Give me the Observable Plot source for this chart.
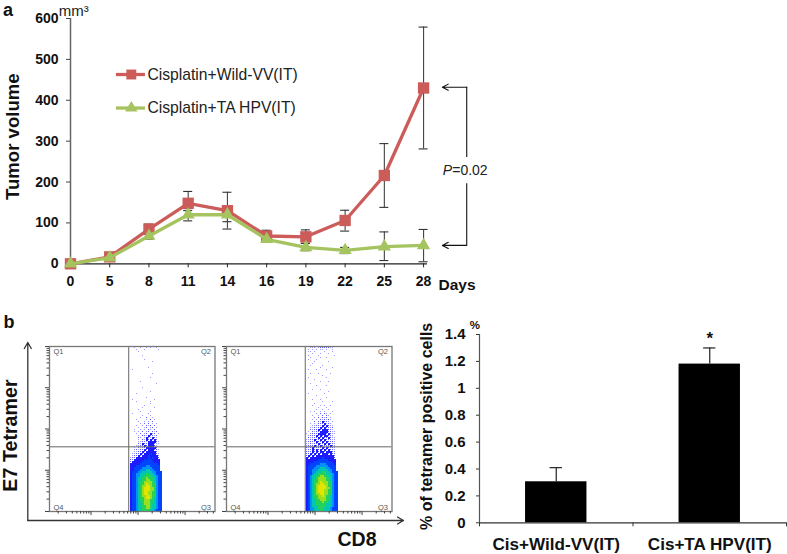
<!DOCTYPE html>
<html>
<head>
<meta charset="utf-8">
<script src="https://cdn.jsdelivr.net/npm/d3@7"></script>
<script src="https://cdn.jsdelivr.net/npm/@observablehq/plot@0.6"></script>
<style>
html,body{margin:0;padding:0;background:#fff}
#page{position:relative;width:787px;height:554px;overflow:hidden;background:#fff}
#page svg{position:absolute;background:transparent;overflow:visible}
</style>
</head>
<body>
<div id="page"></div>
<script>
// ---- Panel a: tumor volume ----
const days = ["0","5","8","11","14","16","19","22","25","28"];
const wildVV = [0,17,85,148,130,68,66,106,216,430];
const wildHigh = [0,20,97,177,175,82,83,131,294,579];
const wildLow = [0,14,72,135,103,55,50,80,138,281];
const taHPV = [0,15,68,120,120,60,40,33,42,45];
const taHigh = [0,17,75,130,132,66,50,40,78,84];
const taLow = [0,12,60,105,85,54,32,25,8,5];
const volumeTicks = [0,100,200,300,400,500,600];
const seriesNames = ["Cisplatin+Wild-VV(IT)","Cisplatin+TA HPV(IT)"];

// ---- Panel b, right: tetramer positive cells ----
const groups = ["Cis+Wild-VV(IT)","Cis+TA HPV(IT)"];
const percent = [0.305,1.18];
const percentHigh = [0.41,1.30];
const percentTicks = [0,0.2,0.4,0.6,0.8,1,1.2,1.4];

// ---- Panel b, flow plots: event density read by eye, one row per band, top to bottom ----
const flowLeft = [
"0010010010100100","0001000100000010","0000100000000000","0000000000000000","0000001000000000",
"0000000000000000","0000000100000000","0000000000010000","0000000000000000","0000000000000000",
"0000000001000000","0100000000000000","0000000000000000","0000000000010000","0000000000000000",
"0000000000100000","0000000000000000","0000010000000000","0000000000000100","0000000000000000",
"0000001000000000","0000000000000000","0000000000100000","0001000000000000","0000000000000000",
"0000000010000000","0100000000001000","0001000000100000","0000000000100000","0000000100000000",
"0000001000001000","0000100000000000","0000010000100000","0100000001000000","0000001000100000",
"0000010020010000","0001000010201000","0000100101020000","0000010202010100","0001001021202000",
"0000100120120100","0010010102102000",
"0010102012021200","0001020120312010","0000102213221200","0000210132132100","0000102132323200",
"0000112213333210","0000213223332110","0001122323332100","0010212233333200","0012122323332210",
"0011223233333200","0112232333433210","0122323334333310","1223333334343320","2233333444433330",
"2333334444443330","3333344444444430","3334444455444440","3344445555544440","3344455566554440",
"3444556666655444","3445566677665444","3445566777766544","3445667787776544","3445667788776544",
"3445677888876544","3445677898877544","3445678899877544","3445678999887544","3445678999887544",
"3445678998877544","3445678998877544","3445678899877544","3445677899876544","3445677888776544",
"3445667888776544","3445667888766544","3445667788766544","3445667788766544","3445667777665444"
];
const flowRight = [
"0011101222221100","0101010110100100","0110100001000100","0001000100010000","0100001000000010",
"0010000100100000","0100010000000000","0000100000010000","0001000000000000","0010000010000000",
"0000000100000100","0100010000100000","0000000000000000","0010001000001000","0000000010000000",
"0100000000100000","0000100000000000","0000000100010000","0010000000000000","0000010000100000",
"0000000000000000","0001000100000000","0000000000010000","0100000001000000","0000010000000000",
"0000000000100000","0001000100000000","0000000010000100","0000100000000000","0001000101001000",
"0000001000100000","0000010010010000","0010100101000100","0000010202101000","0001001020210000",
"0000102021201000","0001010212121000","0000202132210100","0010102223121000","0001122132321100",
"0011212323221200","0021223233322100",
"0102122333322110","1012223333232110","0122232323322100","0212223232232110","1122322323222110",
"1222232232322210","1121223223232210","1222322322223210","2123222232322210","1223232323232210",
"2223232332333220","2232323233323220","2323233333333320","3233333343333320","3333334444433330",
"3333444444444330","3344444555444430","3444455555544440","3444555666554440","3445556666655440",
"3445566677665444","3445667777666544","3456677887766544","3456678888776544","3456778888776544",
"3456778988877544","3456788998877544","3456789999877544","3456789999887544","3456789998877544",
"3456789998877544","3456788998877544","3456778898776544","3456778888776544","3456677888776544",
"3456677787766544","3456677777666544","3456667777666544","3455667776665444","3455666776665444"
];
const densityLevels = [1,2,3,4,5,6,7,8,9];
const densityColors = ["#9c9cff","#5a5aff","#1c1cff","#0044ff","#0092f4","#00c8b0","#22d25a","#96e020","#e4e400"];
const quadrantNames = ["Q1","Q2","Q3","Q4"];

const RED = "#cc5c59", GREEN = "#a5c35f", INK = "#111";
const FONT = "'Liberation Sans', Arial, sans-serif";
const page = document.getElementById("page");
function place(svg, left, top){ svg.style.left = left + "px"; svg.style.top = top + "px"; page.appendChild(svg); }
const base = {style:{fontFamily:FONT, background:"transparent", overflow:"visible"}};

// ---------- Panel a ----------
const idx = days.map((_, i) => i);
const CAP = 0.115;
const errorMarks = (hi, lo) => [
  Plot.ruleX(idx, {x:d=>d, y1:d=>lo[d], y2:d=>hi[d], stroke:"#444", strokeWidth:1.1}),
  Plot.ruleY(idx.filter(d=>d>0), {y:d=>hi[d], x1:d=>d-CAP, x2:d=>d+CAP, stroke:"#333", strokeWidth:1.1}),
  Plot.ruleY(idx.filter(d=>d>0), {y:d=>lo[d], x1:d=>d-CAP, x2:d=>d+CAP, stroke:"#333", strokeWidth:1.1})
];
const legendY = [463,381];
const bracket = [
  {x1:10.1,y1:432,x2:9.48,y2:432},
  {x1:10.1,y1:45,x2:9.48,y2:45}
];
const panelA = Plot.plot({
  ...base, width:787, height:310,
  marginLeft:70, marginRight:360, marginTop:18, marginBottom:46.7,
  x:{domain:[0,9.1], label:null},
  y:{domain:[0,600], label:null},
  marks:[
    Plot.ruleX([0], {y1:0, y2:600, stroke:"#666", strokeWidth:1.5}),
    Plot.ruleY([0], {stroke:"#222", strokeWidth:1.2}),
    Plot.axisY({ticks:volumeTicks, tickSize:4, tickPadding:8, stroke:"#444", fill:INK, fontSize:14, fontWeight:"bold", tickFormat:d=>String(d)}),
    Plot.axisX({ticks:idx, tickSize:4, tickPadding:8, stroke:"#222", fill:INK, fontSize:14, fontWeight:"bold", tickFormat:d=>days[d]}),
    ...errorMarks(wildHigh, wildLow),
    ...errorMarks(taHigh, taLow),
    Plot.line(idx, {x:d=>d, y:d=>wildVV[d], stroke:RED, strokeWidth:3.3}),
    Plot.dot(idx, {x:d=>d, y:d=>wildVV[d], symbol:"square", r:6.4, fill:RED, stroke:"none"}),
    Plot.line(idx, {x:d=>d, y:d=>taHPV[d], stroke:GREEN, strokeWidth:3.3}),
    Plot.dot(idx, {x:d=>d, y:d=>taHPV[d], symbol:"triangle", r:4.9, fill:GREEN, stroke:"none"}),
    // legend
    Plot.ruleY([0], {y:legendY[0], x1:1.17, x2:1.91, stroke:RED, strokeWidth:3.3}),
    Plot.ruleY([0], {y:legendY[1], x1:1.17, x2:1.91, stroke:GREEN, strokeWidth:3.3}),
    Plot.dot([0], {x:1.55, y:legendY[0], symbol:"square", r:5.6, fill:RED, stroke:"none"}),
    Plot.dot([0], {x:1.55, y:legendY[1], symbol:"triangle", r:4.6, fill:GREEN, stroke:"none"}),
    Plot.text([0,1], {x:1.96, y:i=>legendY[i], text:i=>seriesNames[i], textAnchor:"start", fontSize:15.7, fill:"#222"}),
    // significance bracket
    Plot.arrow(bracket, {x1:"x1", y1:"y1", x2:"x2", y2:"y2", stroke:"#111", strokeWidth:1.1, headLength:9, headAngle:55}),
    Plot.ruleX([10.1], {y1:432, y2:260, stroke:"#111", strokeWidth:1.1}),
    Plot.ruleX([10.1], {y1:196, y2:45, stroke:"#111", strokeWidth:1.1}),
    Plot.text(["P"], {x:9.73, y:227, text:d=>d, fontStyle:"italic", textAnchor:"end", fontSize:14, fill:"#222"}),
    Plot.text(["=0.02"], {x:9.73, y:227, text:d=>d, textAnchor:"start", fontSize:14, fill:"#222"}),
    // titles
    Plot.text(["Tumor volume"], {x:-1.47, y:311, text:d=>d, rotate:-90, fontSize:18.6, fontWeight:"bold", fill:INK}),
    Plot.text(["mm³"], {x:-0.3, y:618, text:d=>d, textAnchor:"start", fontSize:15, fill:"#222"}),
    Plot.text(["Days"], {x:9.38, y:-53, text:d=>d, textAnchor:"start", fontSize:15.5, fontWeight:"bold", fill:INK}),
    Plot.text(["a"], {x:-1.72, y:621, text:d=>d, textAnchor:"start", fontSize:18, fontWeight:"bold", fill:INK})
  ]
});
place(panelA, 0, 0);

// ---------- Panel b: arrows and titles of the flow plots ----------
const panelFlowAxes = Plot.plot({
  ...base, width:405, height:244, margin:0,
  x:{domain:[0,405], label:null, axis:null},
  y:{domain:[244,0], label:null, axis:null},
  marks:[
    Plot.arrow([{x1:27.3,y1:210,x2:27.3,y2:32}], {x1:"x1", y1:"y1", x2:"x2", y2:"y2", stroke:"#333", strokeWidth:1.3, headLength:8, headAngle:60}),
    Plot.arrow([{x1:27.3,y1:210,x2:403,y2:210}], {x1:"x1", y1:"y1", x2:"x2", y2:"y2", stroke:"#333", strokeWidth:1.3, headLength:8, headAngle:60}),
    Plot.text(["b"], {x:3, y:11.5, text:d=>d, textAnchor:"start", fontSize:18, fontWeight:"bold", fill:INK}),
    Plot.text(["E7 Tetramer"], {x:10, y:125, text:d=>d, rotate:-90, fontSize:19.7, fontWeight:"bold", fill:INK}),
    Plot.text(["CD8"], {x:356.5, y:229, text:d=>d, fontSize:19.5, fontWeight:"bold", fill:INK})
  ]
});
place(panelFlowAxes, 0, 310);

// ---------- Flow plots: log-decade axes, density read as bands ----------
const DECADES_X = 3.52, DECADES_Y = 4;
const CELL_X = 2/47, CELL_Y = 2/41.25;
const minor = [2,3,4,5,6,7,8,9];
const xDecades = [-0.117,0.883,1.883,2.883];
const yDecades = [0,1,2,3];
const inDom = (v, m) => v >= 0 && v <= m;
const xMinor = xDecades.flatMap(d=>minor.map(f=>d+Math.log10(f))).filter(v=>inDom(v,DECADES_X));
const yMinor = yDecades.flatMap(d=>minor.map(f=>d+Math.log10(f))).filter(v=>inDom(v,DECADES_Y));

function flowPlot(rows, gateX, gateY, startX){
  const cells = rows.flatMap((row, r) => Array.from(row, (ch, c) => ({r, c, level:+ch}))).filter(d => d.level > 0);
  // sparse events (levels 1-2) are drawn as single pixels, denser bands fill their cell
  const size = d => d.level < 3 ? 0.5 : 1;
  const svg = Plot.plot({
    ...base, width:175.5, height:175,
    marginLeft:5, marginRight:5, marginTop:5, marginBottom:5,
    x:{domain:[0,DECADES_X], label:null},
    y:{domain:[0,DECADES_Y], label:null},
    color:{type:"ordinal", domain:densityLevels, range:densityColors},
    marks:[
      Plot.rect(cells, {
        x1:d=>startX + d.c*CELL_X, x2:d=>startX + (d.c+size(d))*CELL_X,
        y1:d=>DECADES_Y - (1 + 2*d.r)/41.25, y2:d=>DECADES_Y - (1 + 2*d.r)/41.25 - size(d)*CELL_Y,
        fill:d=>d.level, shapeRendering:"crispEdges"
      }),
      Plot.ruleX([gateX], {stroke:"#666", strokeWidth:1}),
      Plot.ruleY([gateY], {stroke:"#666", strokeWidth:1}),
      Plot.frame({stroke:"#777", strokeWidth:1.3}),
      Plot.axisX({ticks:xMinor, tickSize:2.5, tickFormat:()=>"", stroke:"#444"}),
      Plot.axisX({ticks:xDecades.filter(v=>inDom(v,DECADES_X)), tickSize:4, tickFormat:()=>"", stroke:"#444"}),
      Plot.axisY({ticks:yMinor, tickSize:2.5, tickFormat:()=>"", stroke:"#444"}),
      Plot.axisY({ticks:[0,1,2,3,4], tickSize:4, tickFormat:()=>"", stroke:"#444"}),
      Plot.text([quadrantNames[0]], {frameAnchor:"top-left", dx:4, dy:2, text:d=>d, fontSize:7.5, fill:"#555"}),
      Plot.text([quadrantNames[1]], {frameAnchor:"top-right", dx:-4, dy:2, text:d=>d, fontSize:7.5, fill:"#555"}),
      Plot.text([quadrantNames[2]], {frameAnchor:"bottom-right", dx:-4, dy:-2, text:d=>d, fontSize:7.5, fill:"#555"}),
      Plot.text([quadrantNames[3]], {frameAnchor:"bottom-left", dx:4, dy:-2, text:d=>d, fontSize:7.5, fill:"#555"})
    ]
  });
  svg.querySelectorAll('g[aria-label="rect"]').forEach(g => { g.style.filter = "blur(0.4px)"; });
  return svg;
}
place(flowPlot(flowLeft, 1.685, 1.568, 1.713), 43.5, 341);
place(flowPlot(flowRight, 1.675, 1.568, 1.708), 220.7, 341);

// ---------- Panel b: bar chart ----------
const barIdx = groups.map((_, i) => i);
const panelBars = Plot.plot({
  ...base, width:387, height:244,
  marginLeft:79, marginRight:1, marginTop:24, marginBottom:31.7,
  x:{domain:[0,2], label:null},
  y:{domain:[0,1.4], label:null},
  marks:[
    Plot.ruleX(barIdx, {x:i=>i+0.5, y1:i=>percent[i], y2:i=>percentHigh[i], stroke:"#222", strokeWidth:1.2}),
    Plot.ruleY(barIdx, {y:i=>percentHigh[i], x1:i=>i+0.46, x2:i=>i+0.54, stroke:"#222", strokeWidth:1.2}),
    Plot.rectY(barIdx, {x1:i=>i+0.3, x2:i=>i+0.7, y1:0, y2:i=>percent[i], fill:"#000"}),
    Plot.ruleX([0], {y1:0, y2:1.4, stroke:"#555", strokeWidth:1.2}),
    Plot.ruleY([0], {stroke:"#333", strokeWidth:1.2}),
    Plot.axisY({ticks:percentTicks, tickSize:3, tickPadding:11, stroke:"#333", fill:INK, fontSize:15, fontWeight:"bold", tickFormat:d=>String(d)}),
    Plot.axisX({ticks:[0,1,2], tickSize:4, tickFormat:()=>"", stroke:"#333"}),
    Plot.text(barIdx, {x:i=>i+0.5, y:-0.162, text:i=>groups[i], fontSize:17.1, fontWeight:"bold", fill:INK}),
    Plot.text(["*"], {x:1.5, y:1.37, text:d=>d, fontSize:17, fontWeight:"bold", fill:INK}),
    Plot.text(["% of tetramer positive cells"], {x:-0.345, y:0.717, text:d=>d, rotate:-90, fontSize:16, fontWeight:"bold", fill:INK}),
    Plot.text(["%"], {x:-0.03, y:1.467, text:d=>d, fontSize:11.5, fontWeight:"bold", fill:INK})
  ]
});
place(panelBars, 400, 310);
</script>
</body>
</html>
